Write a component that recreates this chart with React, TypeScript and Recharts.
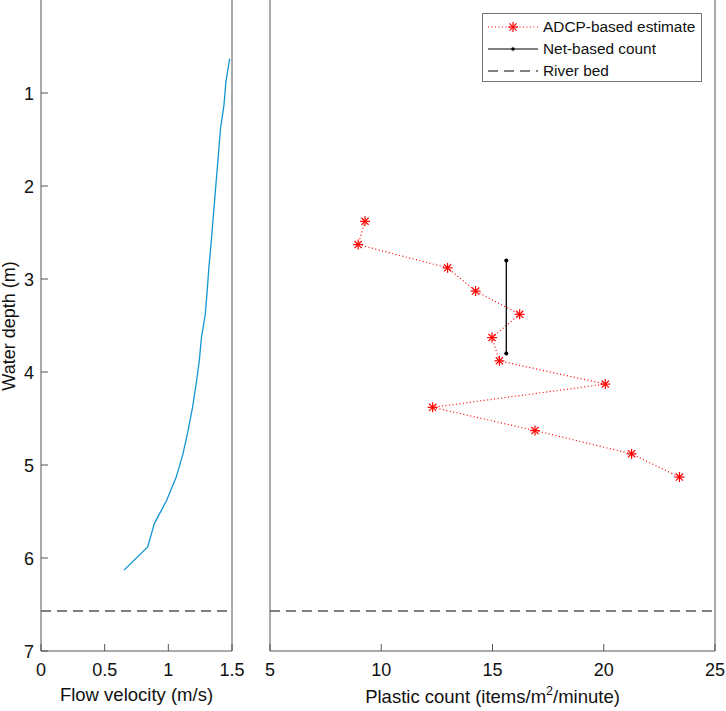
import {
  ScatterChart,
  Scatter,
  XAxis,
  YAxis,
  ReferenceLine,
  Legend,
} from 'recharts';

// flow velocity profile (m/s) against water depth (m)
const velocityDepths = [
  0.63, 0.88, 1.13, 1.38, 1.63, 1.88, 2.13, 2.38, 2.63, 2.88, 3.13, 3.38,
  3.63, 3.88, 4.13, 4.38, 4.63, 4.88, 5.13, 5.38, 5.63, 5.88, 6.13,
];
const velocities = [
  1.482, 1.452, 1.437, 1.41, 1.395, 1.38, 1.365, 1.35, 1.335, 1.318, 1.305,
  1.29, 1.26, 1.243, 1.218, 1.19, 1.155, 1.115, 1.062, 0.987, 0.89, 0.838,
  0.652,
];

// ADCP-based plastic estimate (items/m2/minute)
const adcpDepths = [2.38, 2.63, 2.88, 3.13, 3.38, 3.63, 3.88, 4.13, 4.38, 4.63, 4.88, 5.13];
const adcpCounts = [9.27, 8.96, 12.98, 14.24, 16.22, 14.98, 15.31, 20.07, 12.31, 16.91, 21.25, 23.4];

// net-based count, sampled over a depth range
const netDepths = [2.8, 3.8];
const netCounts = [15.62, 15.62];

const riverBed = 6.57;

const depthTicks = [1, 2, 3, 4, 5, 6, 7];
const velocityTicks = [0, 0.5, 1, 1.5];
const countTicks = [5, 10, 15, 20, 25];

const legendItems = ['ADCP-based estimate', 'Net-based count', 'River bed'];

const velocityData = velocities.map((v, i) => ({ x: v, d: velocityDepths[i] }));
const adcpData = adcpCounts.map((c, i) => ({ x: c, d: adcpDepths[i] }));
const netData = netCounts.map((c, i) => ({ x: c, d: netDepths[i] }));

const FONT = '"Liberation Sans", Arial, Helvetica, sans-serif';
const AXIS = '#555';
const TEXT = '#111';
const BED = '#000';

function BottomTick(props: any) {
  const { x, y, payload } = props;
  return (
    <text x={x} y={y + 24.5} textAnchor="middle" fontSize={18} fill={TEXT} fontFamily={FONT}>
      {String(payload.value)}
    </text>
  );
}

function LeftTick(props: any) {
  const { x, y, payload } = props;
  return (
    <text x={x} y={y + 6.5} textAnchor="end" fontSize={18} fill={TEXT} fontFamily={FONT}>
      {String(payload.value)}
    </text>
  );
}

function VelocityLabel(props: any) {
  const { viewBox } = props;
  return (
    <text x={viewBox.x + viewBox.width / 2} y={700.5} textAnchor="middle" fontSize={18.5} fill={TEXT} fontFamily={FONT}>
      Flow velocity (m/s)
    </text>
  );
}

function DepthLabel() {
  return (
    <text x={15} y={326} transform="rotate(-90, 15, 326)" textAnchor="middle" fontSize={18} fill={TEXT} fontFamily={FONT}>
      Water depth (m)
    </text>
  );
}

function CountLabel(props: any) {
  const { viewBox } = props;
  return (
    <text x={viewBox.x + viewBox.width / 2} y={703} textAnchor="middle" fontSize={18.5} fill={TEXT} fontFamily={FONT}>
      Plastic count (items/m
      <tspan dy={-8} fontSize={12.5}>2</tspan>
      <tspan dy={8}>/minute)</tspan>
    </text>
  );
}

function Asterisk(props: any) {
  const { cx, cy } = props;
  const r = 5;
  const q = 3.6;
  return (
    <g stroke="#ff0000" strokeWidth={1.2}>
      <line x1={cx - r} y1={cy} x2={cx + r} y2={cy} />
      <line x1={cx} y1={cy - r} x2={cx} y2={cy + r} />
      <line x1={cx - q} y1={cy - q} x2={cx + q} y2={cy + q} />
      <line x1={cx - q} y1={cy + q} x2={cx + q} y2={cy - q} />
    </g>
  );
}

const NetDot = (props: any) => <circle cx={props.cx} cy={props.cy} r={2} fill="#000" />;
const NoDot = () => <g />;

function LegendBox() {
  return (
    <div
      style={{
        width: 220,
        height: 69,
        border: '1px solid #777',
        background: '#fff',
        fontFamily: FONT,
        fontSize: 15.4,
        color: TEXT,
        boxSizing: 'border-box',
        paddingTop: 2,
      }}
    >
      {legendItems.map((name, i) => (
        <div key={name} style={{ display: 'flex', alignItems: 'center', height: 22 }}>
          <svg width={55} height={14} style={{ marginLeft: 5, marginRight: 0 }}>
            {i === 0 && (
              <>
                <line x1={0} y1={7} x2={50} y2={7} stroke="#ff0000" strokeWidth={1.2} strokeDasharray="1 2.5" />
                <Asterisk cx={25} cy={7} />
              </>
            )}
            {i === 1 && (
              <>
                <line x1={0} y1={7} x2={50} y2={7} stroke="#000" strokeWidth={1} />
                <circle cx={25} cy={7} r={1.8} fill="#000" />
              </>
            )}
            {i === 2 && <line x1={0} y1={7} x2={50} y2={7} stroke={BED} strokeWidth={1} strokeDasharray="10 6" />}
          </svg>
          <span>{name}</span>
        </div>
      ))}
    </div>
  );
}

export default function App() {
  return (
    <div style={{ position: 'absolute', left: 0, top: 0, width: 726, height: 711, background: '#fff' }}>
      {/* left panel: velocity profile */}
      <div style={{ position: 'absolute', left: 0, top: 0 }}>
        <ScatterChart width={258} height={711} margin={{ top: 0, right: 25, bottom: 0, left: 0 }}>
          <XAxis
            type="number"
            dataKey="x"
            domain={[0, 1.5]}
            ticks={velocityTicks}
            height={60}
            stroke={AXIS}
            tickSize={-7}
            tickMargin={7}
            tick={BottomTick}
            label={<VelocityLabel />}
          />
          <XAxis xAxisId="top" orientation="top" type="number" domain={[0, 1.5]} ticks={velocityTicks} height={0} axisLine={false} stroke={AXIS} tickSize={-7} tick={false} />
          <YAxis
            type="number"
            dataKey="d"
            domain={[0, 7]}
            reversed
            ticks={depthTicks}
            width={41}
            stroke={AXIS}
            tickSize={-7}
            tickMargin={14}
            tick={LeftTick}
            label={<DepthLabel />}
          />
          <YAxis yAxisId="right" orientation="right" type="number" domain={[0, 7]} reversed ticks={depthTicks} width={1} stroke={AXIS} tickSize={-7} tick={false} />
          <ReferenceLine y={riverBed} stroke={BED} strokeDasharray="10 6" />
          <Scatter
            data={velocityData}
            line={{ stroke: '#1296d4', strokeWidth: 1.3 }}
            lineType="joint"
            shape={NoDot}
            isAnimationActive={false}
          />
        </ScatterChart>
      </div>

      {/* right panel: plastic counts */}
      <div style={{ position: 'absolute', left: 229, top: 0 }}>
        <ScatterChart width={497} height={711} margin={{ top: 0, right: 10, bottom: 0, left: 0 }}>
          <XAxis
            type="number"
            dataKey="x"
            domain={[5, 25]}
            ticks={countTicks}
            height={60}
            stroke={AXIS}
            tickSize={-7}
            tickMargin={7}
            tick={BottomTick}
            label={<CountLabel />}
          />
          <XAxis xAxisId="top" orientation="top" type="number" domain={[5, 25]} ticks={countTicks} height={0} axisLine={false} stroke={AXIS} tickSize={-7} tick={false} />
          <YAxis type="number" dataKey="d" domain={[0, 7]} reversed ticks={depthTicks} width={41} stroke={AXIS} tickSize={-7} tick={false} />
          <YAxis yAxisId="right" orientation="right" type="number" domain={[0, 7]} reversed ticks={depthTicks} width={1} stroke={AXIS} tickSize={-7} tick={false} />
          <ReferenceLine y={riverBed} stroke={BED} strokeDasharray="10 6" />
          <Scatter
            data={adcpData}
            line={{ stroke: '#ff0000', strokeWidth: 1.2, strokeDasharray: '1 2.5' }}
            lineType="joint"
            shape={Asterisk}
            isAnimationActive={false}
          />
          <Scatter
            data={netData}
            line={{ stroke: '#000', strokeWidth: 1.3 }}
            lineType="joint"
            shape={NetDot}
            isAnimationActive={false}
          />
          <Legend
            layout="horizontal"
            verticalAlign="middle"
            align="center"
            wrapperStyle={{ left: 253, top: 13, width: 220 }}
            content={<LegendBox />}
          />
        </ScatterChart>
      </div>
    </div>
  );
}
